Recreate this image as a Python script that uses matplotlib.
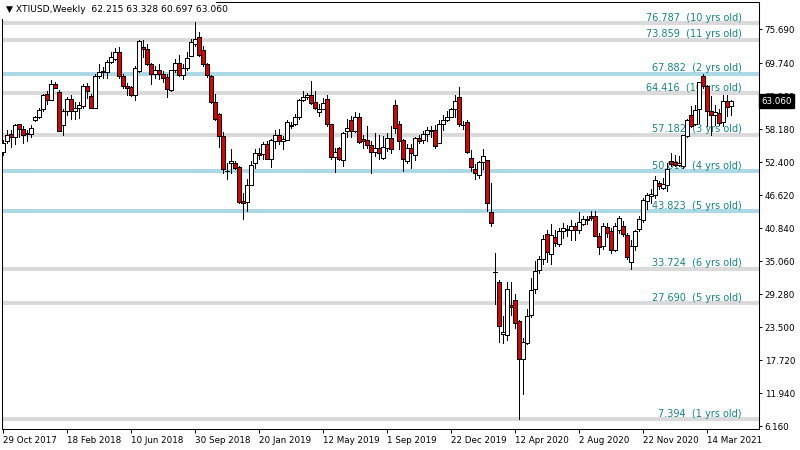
import matplotlib
matplotlib.use('Agg')
import matplotlib.pyplot as plt
import matplotlib.transforms as mtransforms
from matplotlib.patches import Rectangle

# weekly OHLC, first bar = week of 29 Oct 2017
opens = [54.2, 56.1, 57.3, 56.8, 59.0, 58.2, 57.4, 57.3, 59.8, 60.2,
         61.6, 64.4, 63.3, 66.1, 64.7, 58.9, 61.3, 63.5, 61.3, 61.9,
         62.3, 65.8, 63.9, 61.9, 67.4, 68.1, 68.2, 69.9, 70.5, 71.7,
         67.4, 65.8, 65.6, 64.1, 68.3, 72.6, 72.2, 69.5, 67.8, 68.6,
         67.9, 67.3, 65.1, 68.5, 69.8, 67.6, 68.8, 71.0, 73.0, 74.3,
         72.1, 69.5, 67.5, 62.9, 60.8, 57.0, 50.8, 52.2, 52.3, 51.6,
         45.6, 45.4, 48.3, 52.2, 54.05, 53.75, 55.5, 53.0, 56.1, 57.2,
         56.1, 56.3, 58.7, 59.1, 60.2, 63.3, 63.85, 64.1, 63.0, 61.2,
         61.75, 63.5, 59.0, 53.3, 54.9, 52.7, 57.9, 59.8, 57.84, 60.35,
         56.38, 56.26, 55.3, 54.15, 54.9, 53.04, 54.9, 56.66, 62.32, 59.11,
         56.25, 52.57, 54.9, 53.62, 56.66, 56.25, 57.36, 57.94, 58.0, 55.78,
         59.11, 59.75, 60.33, 61.62, 63.84, 58.9, 59.46, 53.15, 51.23, 50.12,
         52.45, 52.69, 43.7, 33.2, 31.44, 22.33, 22.04, 27.41, 28.17, 24.49,
         17.84, 20.75, 25.54, 30.21, 33.42, 35.35, 39.73, 36.22, 39.32, 37.98,
         40.27, 40.44, 40.44, 41.26, 40.44, 41.61, 42.19, 43.01, 43.01, 39.51,
         37.64, 41.03, 40.27, 37.06, 40.56, 41.14, 39.68, 34.84, 37.64, 40.68,
         42.31, 45.52, 46.4, 46.57, 48.73, 47.86, 48.44, 52.59, 52.35, 51.88,
         51.65, 57.02, 60.7, 59.12, 61.69, 67.41, 65.66, 61.28, 60.64, 60.99,
         59.47, 63.15, 62.215]
highs = [56.3, 58.0, 58.0, 59.0, 59.1, 58.7, 58.0, 58.8, 60.5, 61.8,
         64.4, 64.8, 66.7, 66.4, 65.1, 61.6, 63.8, 64.2, 62.9, 62.9,
         66.0, 66.2, 64.3, 67.9, 69.5, 69.0, 70.2, 71.7, 72.3, 72.6,
         67.8, 66.3, 65.8, 69.2, 73.8, 73.8, 73.0, 69.8, 69.2, 69.5,
         68.3, 67.8, 68.6, 70.4, 71.1, 69.5, 71.7, 74.0, 76.9, 75.1,
         72.7, 69.7, 67.6, 64.4, 61.0, 57.6, 52.3, 54.7, 52.6, 51.7,
         47.0, 49.4, 52.6, 54.6, 54.9, 55.9, 56.1, 56.4, 58.0, 58.1,
         56.9, 59.8, 59.4, 60.8, 63.4, 64.8, 64.55, 66.6, 64.8, 62.5,
         63.7, 64.1, 59.0, 54.9, 55.1, 57.7, 60.0, 60.5, 61.2, 61.05,
         57.2, 58.7, 56.1, 57.5, 57.1, 56.9, 57.5, 58.7, 63.2, 59.6,
         56.4, 55.5, 55.5, 56.7, 57.1, 57.8, 58.5, 58.7, 58.8, 59.8,
         60.6, 61.3, 61.9, 64.1, 65.6, 59.6, 59.75, 54.5, 52.0, 52.6,
         54.6, 52.7, 48.8, 36.5, 31.8, 25.5, 31.3, 31.4, 29.2, 24.7,
         21.63, 26.7, 32.0, 35.0, 35.9, 39.7, 40.5, 41.6, 40.5, 40.9,
         41.8, 41.4, 42.3, 41.7, 43.6, 42.9, 43.0, 43.8, 43.8, 40.0,
         41.7, 41.7, 40.85, 41.7, 43.0, 42.0, 40.0, 38.7, 40.56, 43.0,
         46.1, 46.98, 47.6, 50.0, 49.0, 49.6, 52.2, 54.0, 53.7, 53.5,
         57.2, 59.95, 62.3, 62.4, 66.5, 67.88, 65.95, 63.9, 62.4, 61.6,
         64.2, 64.2, 63.328]
lows = [53.7, 55.7, 55.0, 55.6, 56.8, 55.8, 56.1, 56.7, 59.5, 60.1,
        61.3, 62.5, 63.2, 65.3, 57.8, 57.2, 60.7, 60.0, 60.0, 60.1,
        61.9, 63.7, 61.8, 61.9, 67.2, 67.2, 67.2, 69.7, 70.3, 67.2,
        65.4, 64.2, 63.9, 63.2, 68.2, 70.8, 69.4, 66.1, 67.2, 66.9,
        66.4, 63.8, 64.9, 68.2, 67.5, 66.9, 68.6, 70.9, 72.7, 70.9,
        69.2, 67.3, 62.8, 59.7, 55.1, 50.5, 49.4, 50.5, 51.1, 45.3,
        42.5, 43.8, 48.3, 51.4, 52.9, 52.9, 52.9, 51.6, 54.9, 55.5,
        54.7, 56.2, 58.4, 58.9, 60.0, 63.1, 63.5, 62.5, 61.75, 60.5,
        61.6, 58.7, 53.0, 50.7, 52.8, 51.7, 56.7, 56.7, 57.7, 55.8,
        54.9, 54.9, 50.5, 53.4, 52.9, 52.9, 54.3, 53.9, 57.5, 54.7,
        50.8, 52.3, 51.3, 52.7, 55.8, 55.8, 56.1, 56.8, 54.9, 55.7,
        58.0, 59.6, 60.2, 60.3, 58.7, 58.1, 53.9, 50.8, 49.4, 49.6,
        51.2, 43.8, 41.2, 27.6, 20.9, 20.75, 21.3, 25.6, 23.4, 7.4,
        11.82, 20.5, 25.3, 29.5, 33.0, 34.5, 34.8, 34.6, 37.7, 37.7,
        39.1, 39.4, 38.8, 38.8, 40.0, 41.3, 41.6, 42.3, 39.4, 36.3,
        37.1, 39.3, 36.5, 36.8, 40.0, 39.4, 35.4, 33.7, 37.06, 40.4,
        41.9, 44.2, 45.2, 46.1, 47.6, 47.6, 47.4, 51.65, 51.65, 51.65,
        51.4, 56.8, 58.5, 58.95, 59.3, 65.4, 58.7, 57.2, 58.8, 58.8,
        58.7, 60.4, 60.697]
closes = [55.8, 57.1, 56.8, 58.8, 58.1, 57.2, 57.3, 58.4, 60.3, 61.5,
          64.1, 63.3, 66.1, 65.4, 57.9, 61.3, 63.5, 61.3, 61.9, 62.4,
          65.7, 64.9, 61.9, 67.5, 68.1, 68.4, 69.9, 70.8, 71.7, 67.4,
          65.8, 65.4, 64.1, 68.9, 73.6, 72.2, 69.6, 67.8, 68.6, 67.8,
          67.2, 65.2, 68.5, 69.8, 67.6, 68.8, 70.7, 73.5, 74.0, 71.2,
          69.5, 67.6, 62.9, 59.9, 57.0, 51.1, 50.9, 52.5, 51.4, 45.4,
          45.3, 48.4, 51.9, 53.9, 53.6, 55.5, 53.0, 56.26, 57.2, 56.0,
          56.4, 59.4, 58.95, 60.2, 63.3, 63.85, 64.1, 62.8, 61.9, 61.75,
          62.8, 59.0, 53.3, 54.2, 52.9, 57.55, 58.3, 57.84, 60.35, 55.97,
          56.1, 55.33, 54.16, 54.9, 53.9, 55.08, 56.66, 54.73, 58.41, 56.07,
          52.98, 54.9, 53.91, 56.66, 56.07, 57.36, 57.94, 57.82, 55.2, 59.11,
          59.69, 60.33, 61.62, 63.02, 59.11, 58.8, 54.15, 51.58, 50.53, 52.45,
          53.5, 45.27, 41.77, 33.1, 23.67, 22.68, 30.09, 27.0, 24.26, 17.95,
          20.87, 25.42, 29.98, 33.3, 35.35, 38.97, 36.63, 39.55, 38.27, 40.31,
          40.85, 40.73, 41.14, 40.44, 41.96, 42.43, 42.49, 42.54, 39.51, 37.47,
          41.14, 39.98, 37.06, 41.14, 42.54, 39.8, 35.77, 37.64, 40.38, 42.49,
          45.7, 46.57, 46.86, 49.32, 48.15, 48.56, 51.18, 52.12, 51.88, 52.24,
          57.08, 59.71, 58.77, 61.46, 66.36, 65.66, 61.28, 60.64, 61.22, 59.24,
          63.15, 62.04, 63.06]

date_labels = ['29 Oct 2017', '18 Feb 2018', '10 Jun 2018', '30 Sep 2018',
               '20 Jan 2019', '12 May 2019', '1 Sep 2019', '22 Dec 2019',
               '12 Apr 2020', '2 Aug 2020', '22 Nov 2020', '14 Mar 2021']
price_ticks = [6.16, 11.94, 17.72, 23.50, 29.28, 35.06, 40.84, 46.62,
               52.40, 58.18, 63.96, 69.74, 75.69]

# support / resistance levels
levels = [76.787, 73.859, 67.882, 64.416, 57.182, 50.816, 43.823, 33.724, 27.690, 7.394]
level_ages = [10, 11, 2, 10, 3, 4, 5, 6, 5, 1]
level_strong = [False, False, True, False, False, True, True, False, False, False]

symbol = 'XTIUSD,Weekly'

plt.rcParams['font.family'] = 'DejaVu Sans'
fig = plt.figure(figsize=(8, 4.5), dpi=100)
ax = fig.add_axes([2 / 800, 21 / 450, 757 / 800, 427 / 450])

idx = list(range(len(opens)))
bottoms = [min(o, c) for o, c in zip(opens, closes)]
heights = [max(abs(c - o), 0.08) for o, c in zip(opens, closes)]
colors = ['white' if c >= o else '#e00000' for o, c in zip(opens, closes)]

ax.vlines(idx, lows, highs, color='black', linewidth=0.72, antialiased=False, zorder=4)
ax.bar(idx, heights, bottom=bottoms, width=0.78, color=colors,
       edgecolor='black', linewidth=0.72, antialiased=False, zorder=5)

trans = mtransforms.blended_transform_factory(ax.transAxes, ax.transData)
for lvl, age, strong in zip(levels, level_ages, level_strong):
    ax.axhline(lvl, color='#add8e6' if strong else '#dadada', linewidth=2.9, zorder=1)
    ax.annotate('%.3f  (%d yrs old)' % (lvl, age), xy=(0.9775, lvl), xycoords=trans,
                xytext=(0, 1.6), textcoords='offset points', ha='right', va='baseline',
                fontsize=7, color='#128585', zorder=2)

ax.set_xlim(-0.25, 189)
ax.set_ylim(5.635, 80.43)

ax.set_xticks([16 * k for k in range(len(date_labels))])
ax.set_xticklabels(date_labels, ha='left')
ax.yaxis.tick_right()
ax.set_yticks(price_ticks)
ax.set_yticklabels(['%.3f' % p for p in price_ticks])
ax.tick_params(axis='x', direction='out', length=3, width=0.7, pad=2, labelsize=6.3)
ax.tick_params(axis='y', direction='out', length=2.5, width=0.7, pad=1.5, labelsize=6.3)
for sp in ax.spines.values():
    sp.set_linewidth(0.75)
    sp.set_color('black')

# current price tag (sits over the 63.960 tick label, as in the terminal)
ax.text(1.003, closes[-1], '%.3f' % closes[-1], transform=trans, ha='left', va='center',
        fontsize=6.3, color='white', zorder=10, clip_on=False,
        bbox=dict(boxstyle='square,pad=0.3', facecolor='black', edgecolor='black'))

# header
fig.patches.append(Rectangle((0, 1 - 19 / 450), 216 / 800, 19 / 450, transform=fig.transFigure,
                             facecolor='white', edgecolor='none', zorder=5))
fig.text(6 / 800, 1 - 10 / 450, '\u25bc %s  %.3f %.3f %.3f %.3f' % (symbol, opens[-1], highs[-1], lows[-1], closes[-1]),
         fontsize=6.6, va='center', ha='left', color='black', zorder=6)

fig.savefig('out.png', dpi=100)
